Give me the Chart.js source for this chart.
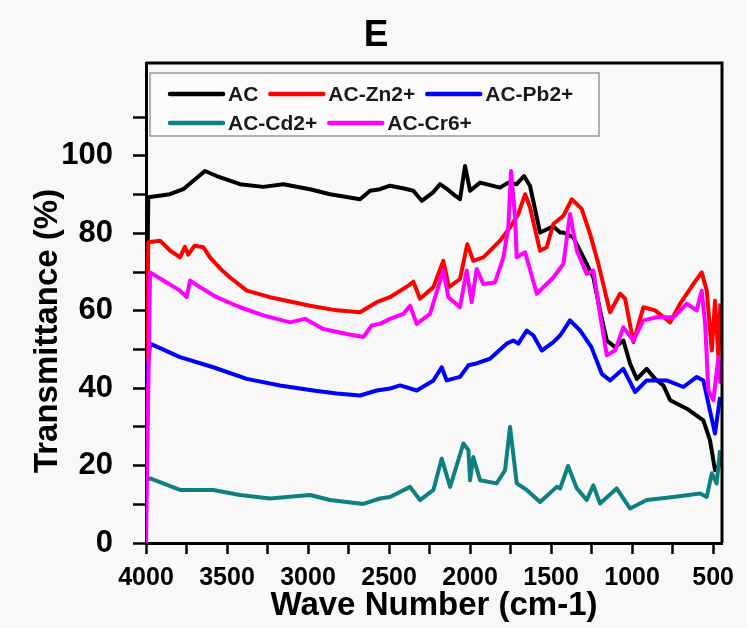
<!DOCTYPE html>
<html>
<head>
<meta charset="utf-8">
<script src="https://cdn.jsdelivr.net/npm/chart.js@4.4.1/dist/chart.umd.min.js"></script>
<style>
  html, body { margin: 0; padding: 0; background: #f8f8f8; }
  #wrap { width: 747px; height: 628px; }
</style>
</head>
<body>
<div id="wrap"><canvas id="ftir"></canvas></div>
<script>
// series names + colours (legend order)
const seriesNames = ['AC', 'AC-Zn2+', 'AC-Pb2+', 'AC-Cd2+', 'AC-Cr6+'];
const seriesColors = ['#000000', '#ff0000', '#0000ff', '#0e8080', '#ff00ff'];

// AC
const acWave = [4000, 3986, 3852, 3770, 3636, 3564, 3420, 3276, 3152, 2988, 2864, 2679, 2617, 2556, 2494, 2400, 2350, 2298, 2230, 2185, 2144, 2100, 2062, 2031, 2000, 1938, 1815, 1764, 1712, 1667, 1630, 1568, 1486, 1444, 1424, 1362, 1300, 1239, 1198, 1156, 1105, 1054, 1012, 971, 910, 858, 807, 765, 662, 560, 519, 488, 467, 455];
const acT    = [40, 89.3, 90.1, 91.4, 96.1, 94.8, 92.7, 92.0, 92.7, 91.4, 90.1, 88.8, 91.0, 91.4, 92.3, 91.5, 91.0, 88.4, 90.5, 92.7, 91.5, 90.0, 88.8, 97.4, 91.0, 93.1, 91.8, 93.1, 92.7, 94.8, 92.3, 80.2, 81.8, 80.2, 80.2, 78.9, 73.8, 68.6, 60.1, 52.3, 50.6, 52.3, 46.3, 42.4, 45.0, 42.4, 40.7, 36.9, 34.7, 31.7, 26.5, 18.8, 19.7, 22.0];

// AC-Zn2+
const znWave = [4000, 3986, 3914, 3850, 3790, 3760, 3739, 3700, 3646, 3605, 3540, 3481, 3378, 3235, 2988, 2823, 2679, 2576, 2494, 2381, 2350, 2309, 2226, 2165, 2130, 2062, 2017, 1980, 1918, 1815, 1753, 1702, 1660, 1630, 1568, 1527, 1486, 1424, 1372, 1311, 1259, 1208, 1136, 1074, 1043, 992, 930, 858, 765, 704, 622, 570, 539, 508, 488, 467, 455];
const znT    = [36, 77.7, 78.1, 75.5, 73.8, 76.5, 74.5, 76.8, 76.4, 73.8, 70.8, 68.6, 65.2, 63.5, 61.3, 60.1, 59.6, 62.2, 63.5, 66.5, 67.5, 63.1, 66.1, 72.9, 66.1, 68.2, 77.2, 72.9, 73.8, 78.1, 81.5, 85.0, 90.1, 86.7, 75.5, 76.4, 82.4, 84.5, 88.8, 86.3, 79.8, 72.1, 59.6, 64.4, 63.1, 51.9, 60.9, 60.1, 57.0, 61.8, 66.9, 69.9, 65.2, 49.7, 62.6, 48.0, 61.9];

// AC-Pb2+
const pbWave = [4000, 3975, 3790, 3585, 3378, 3173, 2967, 2823, 2679, 2576, 2494, 2432, 2329, 2226, 2175, 2144, 2062, 2010, 1969, 1877, 1774, 1733, 1702, 1650, 1609, 1557, 1486, 1444, 1383, 1321, 1251, 1187, 1136, 1054, 981, 910, 786, 683, 601, 560, 529, 488, 457];
const pbT    = [40, 51.5, 48.0, 45.4, 42.4, 40.7, 39.4, 38.6, 38.1, 39.4, 39.9, 40.7, 39.4, 42.0, 45.4, 42.0, 42.9, 45.9, 46.3, 47.6, 51.5, 52.3, 51.5, 54.9, 53.6, 49.7, 51.9, 53.6, 57.5, 54.9, 50.6, 43.7, 42.0, 45.0, 39.0, 42.0, 42.0, 40.3, 42.9, 42.0, 36.0, 28.3, 37.7];

// AC-Cd2+
const cdWave = [4000, 3975, 3790, 3585, 3420, 3235, 2988, 2864, 2659, 2556, 2494, 2370, 2309, 2226, 2175, 2123, 2041, 2010, 2000, 1980, 1938, 1836, 1784, 1753, 1712, 1650, 1568, 1465, 1444, 1395, 1341, 1280, 1239, 1198, 1095, 1012, 910, 745, 580, 539, 508, 478, 457];
const cdT    = [16, 16.7, 13.7, 13.7, 12.4, 11.5, 12.4, 11.1, 10.1, 11.5, 11.9, 14.5, 11.1, 13.7, 21.8, 14.5, 25.7, 24.0, 16.2, 22.2, 16.2, 15.4, 18.8, 30.0, 15.4, 13.7, 10.6, 14.5, 14.1, 19.9, 14.1, 11.1, 14.9, 10.2, 14.1, 8.9, 11.1, 11.9, 12.8, 11.9, 18.0, 15.4, 24.0];

// AC-Cr6+
const crWave = [4000, 3975, 3893, 3790, 3749, 3728, 3667, 3564, 3420, 3276, 3111, 3019, 2906, 2761, 2659, 2607, 2556, 2494, 2412, 2370, 2329, 2247, 2165, 2134, 2062, 2021, 1990, 1959, 1918, 1846, 1794, 1764, 1747, 1722, 1712, 1660, 1588, 1486, 1424, 1383, 1341, 1280, 1239, 1198, 1156, 1105, 1054, 992, 930, 848, 745, 662, 601, 570, 549, 529, 498, 467, 455];
const crT    = [0, 69.9, 67.8, 65.2, 63.5, 67.8, 66.1, 63.5, 60.9, 58.8, 57.0, 57.9, 55.3, 54.0, 53.2, 56.2, 56.6, 57.9, 59.2, 61.3, 56.6, 59.2, 70.4, 63.5, 60.9, 70.4, 62.2, 70.8, 66.9, 67.3, 73.8, 81.5, 96.1, 84.1, 73.8, 75.1, 64.4, 68.6, 72.1, 85.0, 75.5, 69.5, 70.4, 59.2, 48.5, 49.7, 55.7, 52.3, 57.5, 58.3, 58.3, 61.8, 60.1, 65.2, 56.6, 39.4, 36.9, 48.0, 41.2];

// ticks
const xTickValues = [4000, 3750, 3500, 3250, 3000, 2750, 2500, 2250, 2000, 1750, 1500, 1250, 1000, 750, 500];
const yTickValues = [0, 10, 20, 30, 40, 50, 60, 70, 80, 90, 100, 110];

const waves = [acWave, znWave, pbWave, cdWave, crWave];
const trans = [acT, znT, pbT, cdT, crT];

const FONT = 'Liberation Sans, Arial, sans-serif';

// title, y title, frame and legend box
const decorPlugin = {
  id: 'decor',
  afterDraw(chart) {
    const ctx = chart.ctx;
    const a = chart.chartArea;
    ctx.save();
    // top and right frame
    ctx.strokeStyle = '#000';
    ctx.lineWidth = 3;
    ctx.beginPath();
    ctx.moveTo(a.left, a.top);
    ctx.lineTo(a.right, a.top);
    ctx.lineTo(a.right, a.bottom);
    ctx.stroke();

    // title
    ctx.fillStyle = '#000';
    ctx.font = 'bold 37px ' + FONT;
    ctx.textAlign = 'center';
    ctx.textBaseline = 'middle';
    ctx.fillText('E', 376, 36);

    // y title
    ctx.save();
    ctx.translate(48, 331);
    ctx.rotate(-Math.PI / 2);
    ctx.font = 'bold 33px ' + FONT;
    ctx.fillText('Transmittance (%)', 0, 0);
    ctx.restore();

    // legend
    const box = { left: 150, top: 73, right: 599, bottom: 136 };
    ctx.fillStyle = '#fbfbfb';
    ctx.fillRect(box.left, box.top, box.right - box.left, box.bottom - box.top);
    ctx.strokeStyle = '#999';
    ctx.lineWidth = 1.5;
    ctx.strokeRect(box.left, box.top, box.right - box.left, box.bottom - box.top);

    const rows = [[0, 1, 2], [3, 4]];
    const rowY = [94, 123];
    ctx.font = 'bold 21px ' + FONT;
    ctx.textAlign = 'left';
    ctx.textBaseline = 'middle';
    rows.forEach((row, r) => {
      let x = 170;
      row.forEach(i => {
        const ds = chart.data.datasets[i];
        ctx.strokeStyle = ds.borderColor;
        ctx.lineWidth = 4.5;
        ctx.lineCap = 'round';
        ctx.beginPath();
        ctx.moveTo(x, rowY[r]);
        ctx.lineTo(x + 53, rowY[r]);
        ctx.stroke();
        ctx.fillStyle = '#1a1a1a';
        ctx.fillText(ds.label, x + 58, rowY[r] + 1);
        x += 58 + ctx.measureText(ds.label).width + 12;
      });
    });
    ctx.restore();
  }
};

const tickFont = (size) => ({ family: FONT, weight: 'bold', size: size });

new Chart(document.getElementById('ftir'), {
  type: 'line',
  data: {
    datasets: seriesNames.map((name, i) => ({
      label: name,
      data: waves[i].map((w, j) => ({ x: w, y: trans[i][j] })),
      borderColor: seriesColors[i],
      backgroundColor: seriesColors[i],
      borderWidth: 4,
      borderJoinStyle: 'round',
      pointRadius: 0,
      fill: false,
      tension: 0,
      order: 5 - i
    }))
  },
  options: {
    responsive: true,
    maintainAspectRatio: false,
    animation: false,
    layout: { padding: { top: 63, right: 25, left: 0, bottom: 0 } },
    plugins: {
      legend: { display: false },
      tooltip: { enabled: false }
    },
    scales: {
      x: {
        type: 'linear',
        reverse: true,
        min: 445,
        max: 4000,
        afterFit: (s) => { s.height = 85; },
        afterBuildTicks: (s) => { s.ticks = xTickValues.map(v => ({ value: v })); },
        ticks: {
          autoSkip: false,
          maxRotation: 0,
          color: '#000',
          padding: 9,
          font: tickFont(25),
          callback: (v) => (v % 500 === 0 ? String(v) : '')
        },
        grid: { drawOnChartArea: false, drawTicks: true, tickLength: 11, tickWidth: 2.5, tickColor: '#000' },
        border: { display: true, color: '#000', width: 3 },
        title: {
          display: true,
          text: 'Wave Number (cm-1)',
          color: '#000',
          font: tickFont(33),
          padding: { top: 0, bottom: 2 }
        }
      },
      y: {
        min: 0,
        max: 124,
        afterFit: (s) => { s.width = 146; },
        afterBuildTicks: (s) => { s.ticks = yTickValues.map(v => ({ value: v })); },
        ticks: {
          autoSkip: false,
          color: '#000',
          padding: 20,
          font: tickFont(31),
          callback: (v) => (v % 20 === 0 && v <= 100 ? String(v) : '')
        },
        grid: { drawOnChartArea: false, drawTicks: true, tickLength: 13, tickWidth: 2.5, tickColor: '#000' },
        border: { display: true, color: '#000', width: 3 }
      }
    }
  },
  plugins: [decorPlugin]
});
</script>
</body>
</html>
